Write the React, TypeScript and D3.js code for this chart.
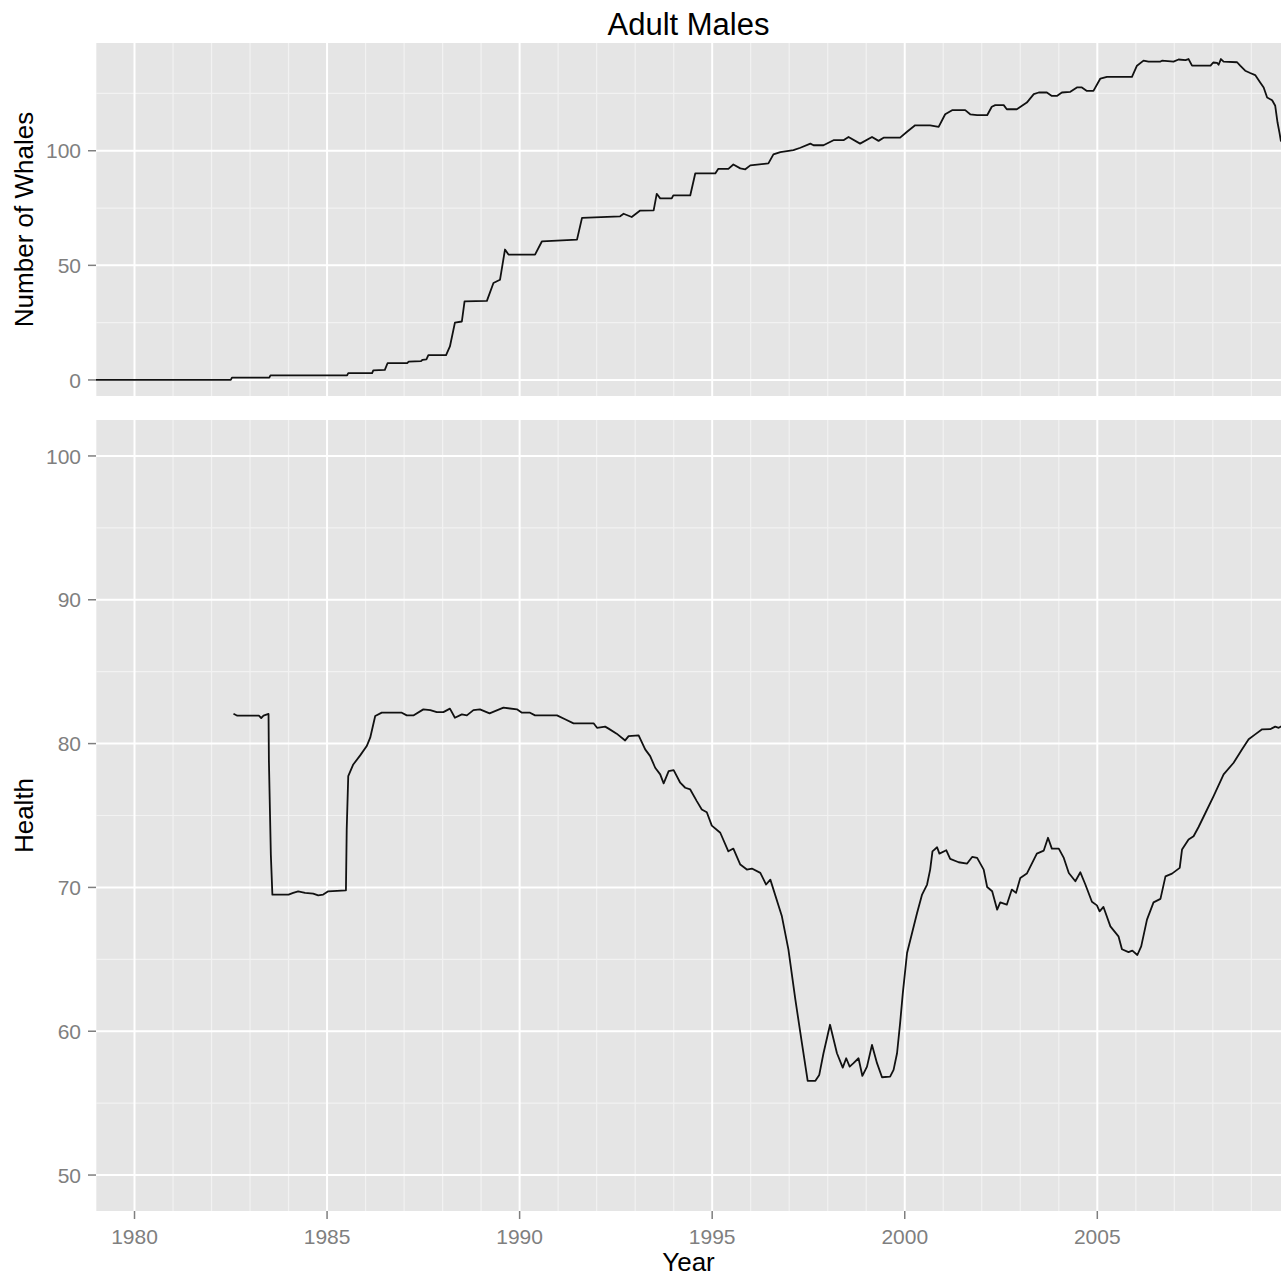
import { useEffect, useRef } from 'react';
import * as d3 from 'd3';

// number of adult males alive, [decimal year, count]
const whaleCount: [number, number][] = [
  [1979.0, 0], [1982.5, 0], [1982.53, 1], [1983.5, 1], [1983.53, 2], [1985.52, 2], [1985.55, 3],
  [1986.17, 3], [1986.2, 4.2], [1986.5, 4.4], [1986.57, 7.3], [1987.08, 7.3], [1987.12, 8],
  [1987.44, 8.2], [1987.48, 8.8], [1987.58, 9], [1987.63, 10.8], [1988.09, 10.8], [1988.19, 14.6],
  [1988.32, 25], [1988.5, 25.5], [1988.57, 34.3], [1989.15, 34.5], [1989.32, 42.3], [1989.49, 43.7],
  [1989.62, 56.9], [1989.71, 54.7], [1990.4, 54.7], [1990.58, 60.5], [1991.49, 61.2], [1991.62, 70.7],
  [1992.61, 71.4], [1992.7, 72.5], [1992.91, 71.1], [1993.13, 73.9], [1993.48, 74], [1993.56, 81.2],
  [1993.65, 79.2], [1993.95, 79.2], [1993.99, 80.5], [1994.43, 80.5], [1994.56, 90.1], [1995.08, 90.1],
  [1995.16, 92.1], [1995.42, 92.1], [1995.55, 94], [1995.73, 92.3], [1995.86, 91.9], [1995.99, 93.6],
  [1996.46, 94.5], [1996.59, 98.4], [1996.77, 99.4], [1997.11, 100.3], [1997.29, 101.3], [1997.55, 103.1],
  [1997.63, 102.4], [1997.89, 102.4], [1998.15, 104.6], [1998.41, 104.6], [1998.54, 106], [1998.84, 103.1],
  [1999.15, 106], [1999.32, 104.3], [1999.45, 105.7], [1999.88, 105.7], [2000.06, 108.3], [2000.27, 111.1],
  [2000.66, 111.1], [2000.88, 110.4], [2001.05, 115.9], [2001.23, 117.7], [2001.57, 117.7], [2001.7, 115.9],
  [2001.88, 115.5], [2002.14, 115.5], [2002.26, 119.2], [2002.35, 119.9], [2002.57, 119.9], [2002.65, 118.1],
  [2002.91, 118.1], [2003.17, 121], [2003.35, 124.7], [2003.48, 125.4], [2003.69, 125.4], [2003.82, 123.9],
  [2003.95, 123.9], [2004.08, 125.4], [2004.3, 125.7], [2004.47, 127.6], [2004.6, 127.6], [2004.73, 126.1],
  [2004.9, 126.1], [2005.08, 131.5], [2005.25, 132.2], [2005.9, 132.2], [2006.03, 137.1], [2006.2, 139.3],
  [2006.33, 138.9], [2006.64, 138.9], [2006.68, 139.3], [2006.98, 138.9], [2007.11, 139.8], [2007.29, 139.5],
  [2007.37, 140], [2007.46, 137.1], [2007.94, 137.1], [2008.01, 138.5], [2008.11, 138.3], [2008.15, 137.5],
  [2008.21, 140], [2008.28, 138.9], [2008.63, 138.6], [2008.71, 137.1], [2008.84, 134.9], [2008.97, 133.9],
  [2009.1, 133], [2009.23, 129.8], [2009.32, 127.6], [2009.41, 123.2], [2009.54, 122], [2009.62, 119.6],
  [2009.68, 112.3], [2009.73, 107.9], [2009.77, 104]
];

// mean health score, [decimal year, health]
const health: [number, number][] = [
  [1982.57, 82.08], [1982.67, 81.94], [1983.23, 81.94], [1983.29, 81.78], [1983.35, 81.94], [1983.48, 82.06],
  [1983.49, 78.78], [1983.54, 72.28], [1983.58, 69.5], [1984.0, 69.5], [1984.12, 69.62], [1984.25, 69.73],
  [1984.43, 69.62], [1984.64, 69.57], [1984.77, 69.45], [1984.9, 69.5], [1985.03, 69.73], [1985.49, 69.8],
  [1985.51, 74.03], [1985.55, 77.74], [1985.68, 78.55], [1985.86, 79.18], [1986.03, 79.83], [1986.12, 80.41],
  [1986.18, 81.1], [1986.25, 81.92], [1986.42, 82.15], [1986.94, 82.15], [1987.07, 81.96], [1987.24, 81.96],
  [1987.5, 82.38], [1987.68, 82.33], [1987.85, 82.19], [1988.02, 82.19], [1988.19, 82.43], [1988.32, 81.8],
  [1988.5, 82.03], [1988.63, 81.96], [1988.8, 82.33], [1988.97, 82.38], [1989.22, 82.1], [1989.36, 82.26],
  [1989.58, 82.5], [1989.93, 82.38], [1990.06, 82.15], [1990.27, 82.15], [1990.4, 81.96], [1990.97, 81.96],
  [1991.18, 81.69], [1991.4, 81.41], [1991.92, 81.41], [1992.01, 81.1], [1992.22, 81.18], [1992.31, 81.04],
  [1992.52, 80.69], [1992.74, 80.22], [1992.83, 80.52], [1993.09, 80.57], [1993.26, 79.6], [1993.39, 79.13],
  [1993.52, 78.32], [1993.65, 77.86], [1993.74, 77.23], [1993.87, 78.08], [1994.0, 78.15], [1994.17, 77.28],
  [1994.3, 76.93], [1994.43, 76.81], [1994.6, 76.0], [1994.73, 75.42], [1994.86, 75.23], [1994.99, 74.3],
  [1995.21, 73.8], [1995.42, 72.51], [1995.55, 72.7], [1995.73, 71.59], [1995.9, 71.24], [1996.03, 71.31],
  [1996.25, 71.01], [1996.4, 70.2], [1996.51, 70.54], [1996.81, 67.99], [1996.98, 65.67], [1997.16, 62.19],
  [1997.33, 59.17], [1997.48, 56.55], [1997.68, 56.55], [1997.78, 56.96], [1997.89, 58.47], [1998.06, 60.45],
  [1998.24, 58.47], [1998.39, 57.47], [1998.48, 58.12], [1998.57, 57.54], [1998.67, 57.78], [1998.8, 58.12],
  [1998.9, 56.89], [1999.02, 57.54], [1999.15, 59.05], [1999.28, 57.78], [1999.41, 56.8], [1999.62, 56.84],
  [1999.71, 57.31], [1999.8, 58.47], [1999.88, 60.56], [1999.95, 62.65], [2000.06, 65.44], [2000.19, 66.83],
  [2000.32, 68.22], [2000.45, 69.5], [2000.58, 70.2], [2000.66, 71.24], [2000.72, 72.51], [2000.84, 72.79],
  [2000.9, 72.35], [2001.08, 72.58], [2001.18, 71.98], [2001.4, 71.75], [2001.62, 71.66], [2001.75, 72.12],
  [2001.88, 72.05], [2002.05, 71.24], [2002.14, 70.03], [2002.27, 69.73], [2002.4, 68.45], [2002.48, 68.96],
  [2002.65, 68.8], [2002.78, 69.85], [2002.89, 69.62], [2003.0, 70.66], [2003.17, 70.96], [2003.43, 72.35],
  [2003.61, 72.56], [2003.72, 73.45], [2003.82, 72.7], [2004.0, 72.7], [2004.13, 72.05], [2004.26, 71.0],
  [2004.43, 70.43], [2004.56, 71.05], [2004.69, 70.2], [2004.86, 69.0], [2004.99, 68.75], [2005.06, 68.34],
  [2005.16, 68.64], [2005.34, 67.29], [2005.55, 66.6], [2005.64, 65.7], [2005.81, 65.5], [2005.91, 65.6],
  [2006.04, 65.3], [2006.14, 65.9], [2006.29, 67.76], [2006.46, 68.96], [2006.64, 69.2], [2006.77, 70.77],
  [2006.94, 70.96], [2007.14, 71.36], [2007.2, 72.63], [2007.37, 73.33], [2007.5, 73.56], [2007.63, 74.2],
  [2007.81, 75.19], [2008.02, 76.35], [2008.28, 77.86], [2008.54, 78.67], [2008.76, 79.6], [2008.93, 80.3],
  [2009.1, 80.64], [2009.28, 80.99], [2009.49, 81.0], [2009.62, 81.18], [2009.71, 81.1], [2009.82, 81.27]
];

const yearTicks = [1980, 1985, 1990, 1995, 2000, 2005];
const yearMinor = d3.range(1979, 2010).filter(y => !yearTicks.includes(y));
const countTicks = [0, 50, 100];
const countMinor = [25, 75, 125];
const healthTicks = [50, 60, 70, 80, 90, 100];
const healthMinor = [55, 65, 75, 85, 95];

const W = 1285;
const H = 1277;
const FONT = '"Liberation Sans", Arial, Helvetica, sans-serif';

export default function App() {
  const svgRef = useRef<SVGSVGElement | null>(null);

  useEffect(() => {
    if (!svgRef.current) return;
    const svg = d3.select(svgRef.current);
    svg.selectAll('*').remove();

    const left = 96;
    const right = 1281;

    const x = d3.scaleLinear().domain([1979, 2009.77]).range([left, right]);

    const panels = [
      {
        id: 'count', top: 43, bottom: 396, domain: [-7, 147], data: whaleCount,
        ticks: countTicks, minor: countMinor, title: 'Number of Whales', xLabels: false
      },
      {
        id: 'health', top: 420, bottom: 1211, domain: [47.5, 102.5], data: health,
        ticks: healthTicks, minor: healthMinor, title: 'Health', xLabels: true
      }
    ];

    panels.forEach(p => {
      const y = d3.scaleLinear().domain(p.domain).range([p.bottom, p.top]);
      const g = svg.append('g');

      g.append('clipPath').attr('id', `clip-${p.id}`)
        .append('rect')
        .attr('x', left).attr('y', p.top)
        .attr('width', right - left).attr('height', p.bottom - p.top);

      // panel background
      g.append('rect')
        .attr('x', left).attr('y', p.top)
        .attr('width', right - left).attr('height', p.bottom - p.top)
        .attr('fill', '#e5e5e5');

      // minor grid
      g.selectAll('.vminor').data(yearMinor).enter().append('line')
        .attr('x1', d => x(d)).attr('x2', d => x(d))
        .attr('y1', p.top).attr('y2', p.bottom)
        .attr('stroke', '#f2f2f2').attr('stroke-width', 1.2)
        .attr('clip-path', `url(#clip-${p.id})`);
      g.selectAll('.hminor').data(p.minor).enter().append('line')
        .attr('x1', left).attr('x2', right)
        .attr('y1', d => y(d)).attr('y2', d => y(d))
        .attr('stroke', '#f2f2f2').attr('stroke-width', 1.2);

      // major grid
      g.selectAll('.vmajor').data(yearTicks).enter().append('line')
        .attr('x1', d => x(d)).attr('x2', d => x(d))
        .attr('y1', p.top).attr('y2', p.bottom)
        .attr('stroke', '#ffffff').attr('stroke-width', 2);
      g.selectAll('.hmajor').data(p.ticks).enter().append('line')
        .attr('x1', left).attr('x2', right)
        .attr('y1', d => y(d)).attr('y2', d => y(d))
        .attr('stroke', '#ffffff').attr('stroke-width', 2);

      // the series
      const line = d3.line<[number, number]>()
        .x(d => x(d[0]))
        .y(d => y(d[1]));
      g.append('path')
        .datum(p.data)
        .attr('d', line)
        .attr('fill', 'none')
        .attr('stroke', '#111')
        .attr('stroke-width', 1.8)
        .attr('stroke-linejoin', 'round')
        .attr('clip-path', `url(#clip-${p.id})`);

      // y axis ticks + labels
      g.selectAll('.ytick').data(p.ticks).enter().append('line')
        .attr('x1', left - 8).attr('x2', left)
        .attr('y1', d => y(d)).attr('y2', d => y(d))
        .attr('stroke', '#7f7f7f').attr('stroke-width', 1.5);
      g.selectAll('.ylab').data(p.ticks).enter().append('text')
        .attr('x', left - 15)
        .attr('y', d => y(d))
        .attr('dy', '0.36em')
        .attr('text-anchor', 'end')
        .style('font-family', FONT)
        .style('font-size', '21px')
        .style('fill', '#7f7f7f')
        .text(d => d);

      // y title
      g.append('text')
        .attr('transform', `translate(33,${(p.top + p.bottom) / 2}) rotate(-90)`)
        .attr('text-anchor', 'middle')
        .style('font-family', FONT)
        .style('font-size', '26px')
        .style('fill', '#000')
        .text(p.title);

      if (p.xLabels) {
        g.selectAll('.xtick').data(yearTicks).enter().append('line')
          .attr('x1', d => x(d)).attr('x2', d => x(d))
          .attr('y1', p.bottom).attr('y2', p.bottom + 8)
          .attr('stroke', '#7f7f7f').attr('stroke-width', 1.5);
        g.selectAll('.xlab').data(yearTicks).enter().append('text')
          .attr('x', d => x(d))
          .attr('y', p.bottom + 33)
          .attr('text-anchor', 'middle')
          .style('font-family', FONT)
          .style('font-size', '21px')
          .style('fill', '#7f7f7f')
          .text(d => d);
      }
    });

    // x title
    svg.append('text')
      .attr('x', (left + right) / 2)
      .attr('y', 1271)
      .attr('text-anchor', 'middle')
      .style('font-family', FONT)
      .style('font-size', '26px')
      .style('fill', '#000')
      .text('Year');

    // chart title
    svg.append('text')
      .attr('x', (left + right) / 2)
      .attr('y', 35)
      .attr('text-anchor', 'middle')
      .style('font-family', FONT)
      .style('font-size', '31px')
      .style('fill', '#000')
      .text('Adult Males');
  }, []);

  return (
    <svg
      ref={svgRef}
      width={W}
      height={H}
      style={{ position: 'absolute', left: 0, top: 0, background: '#fff' }}
    />
  );
}
